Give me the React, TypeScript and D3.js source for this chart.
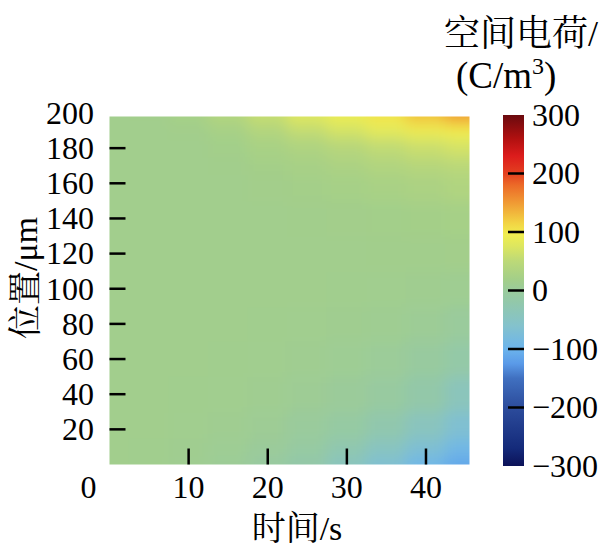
import React from "react";
import * as d3 from "d3";

const times = [0, 5, 10, 15, 20, 25, 30, 35, 40, 45];
const positions = [0, 10, 20, 40, 60, 80, 100, 120, 140, 160, 170, 180, 190, 194, 198];
const charge: number[][] = [
  [15, 14, 11, 5, -5, -18, -42, -66, -92, -112],
  [15, 14, 12, 8, 2, -8, -26, -45, -68, -90],
  [15, 15, 13, 11, 7, 0, -10, -24, -44, -66],
  [15, 15, 14, 13, 11, 7, 2, -6, -18, -40],
  [15, 15, 15, 14, 13, 11, 8, 3, -4, -16],
  [15, 15, 15, 15, 14, 13, 12, 10, 6, 0],
  [15, 15, 15, 15, 15, 15, 14, 13, 12, 10],
  [15, 15, 15, 15, 15, 15, 15, 16, 16, 17],
  [15, 15, 15, 15, 15, 16, 17, 18, 20, 22],
  [15, 15, 15, 15, 17, 19, 22, 26, 30, 35],
  [15, 15, 15, 16, 20, 24, 30, 36, 42, 48],
  [15, 15, 15, 18, 25, 33, 42, 52, 60, 68],
  [15, 15, 16, 22, 36, 52, 65, 78, 88, 94],
  [15, 15, 19, 30, 48, 66, 80, 93, 106, 118],
  [15, 16, 22, 38, 58, 78, 90, 104, 128, 150],
];

const xTicks = [10, 20, 30, 40];
const yTicks = [20, 40, 60, 80, 100, 120, 140, 160, 180];
const yTickLabels = [20, 40, 60, 80, 100, 120, 140, 160, 180, 200];
const cbTicks = [-300, -200, -100, 0, 100, 200, 300];

const cmapValues = [-300, -270, -200, -150, -125, -100, -60, -20, 0, 20, 50, 75, 95, 115, 150, 180, 200, 230, 260, 300];
const cmapColors = [
  "#0c1258", "#142a7a", "#2c4c9c", "#4070c0", "#5a9ae8", "#6cb4ec", "#84c2cc", "#92c8aa",
  "#9acb9c", "#a4cf88", "#bcd978", "#dce660", "#f0ee50", "#f2d444", "#f09a34", "#ec6a28",
  "#e44020", "#dc1c1c", "#b01010", "#6a0a0e",
];

const W = 603;
const H = 552;
const serif = "'Liberation Serif', 'Times New Roman', 'Noto Serif CJK SC', 'Noto Sans CJK SC', serif";
const fs = 32;

export default function App() {
  const tMax = 45.5;
  const pMax = 198;
  const x = d3.scaleLinear().domain([0, tMax]).range([109.5, 469.5]);
  const y = d3.scaleLinear().domain([0, 200]).range([464.5, 113]);
  const color = d3.scaleLinear<string>().domain(cmapValues).range(cmapColors).interpolate(d3.interpolateRgb).clamp(true);
  const cb = d3.scaleLinear().domain([-300, 300]).range([466, 115]);

  const edges = (arr: number[], max: number) =>
    arr.map((v, i) => {
      const lo = i === 0 ? 0 : (arr[i - 1] + v) / 2;
      const hi = i === arr.length - 1 ? max : (arr[i + 1] + v) / 2;
      return [lo, hi];
    });
  const tE = edges(times, tMax);
  const pE = edges(positions, pMax);
  const ext = 30;

  const cells: React.ReactNode[] = [];
  positions.forEach((p, j) => {
    times.forEach((t, i) => {
      let x0 = x(tE[i][0]);
      let x1 = x(tE[i][1]);
      let y0 = y(pE[j][1]);
      let y1 = y(pE[j][0]);
      if (i === 0) x0 -= ext;
      if (i === times.length - 1) x1 += ext;
      if (j === 0) y1 += ext;
      if (j === positions.length - 1) y0 -= ext;
      cells.push(
        <rect key={`${i}-${j}`} x={x0 - 0.5} y={y0 - 0.5} width={x1 - x0 + 1} height={y1 - y0 + 1} fill={color(charge[j][i])} />
      );
    });
  });

  const px0 = x(0), px1 = x(tMax), py0 = y(pMax), py1 = y(0);

  return (
    <svg width={W} height={H} style={{ position: "absolute", left: 0, top: 0, background: "#fff" }} fontFamily={serif}>
      <defs>
        <clipPath id="plotClip">
          <rect x={px0} y={py0} width={px1 - px0} height={py1 - py0} />
        </clipPath>
        <filter id="smooth" x={px0 - 50} y={py0 - 50} width={px1 - px0 + 100} height={py1 - py0 + 100} filterUnits="userSpaceOnUse">
          <feGaussianBlur stdDeviation={7} />
        </filter>
        <linearGradient id="cbGrad" x1="0" y1="1" x2="0" y2="0">
          {cmapValues.map((v, i) => (
            <stop key={i} offset={(v + 300) / 600} stopColor={cmapColors[i]} />
          ))}
        </linearGradient>
      </defs>

      <g clipPath="url(#plotClip)">
        <g filter="url(#smooth)">{cells}</g>
      </g>

      {/* y ticks */}
      {yTicks.map((v) => (
        <line key={v} x1={px0} x2={px0 + 16} y1={y(v)} y2={y(v)} stroke="#000" strokeWidth={2.5} />
      ))}
      {yTickLabels.map((v) => (
        <text key={v} x={94} y={y(v)} dy="0.34em" textAnchor="end" fontSize={fs}>
          {v}
        </text>
      ))}

      {/* x ticks */}
      {xTicks.map((v) => (
        <line key={v} x1={x(v)} x2={x(v)} y1={py1} y2={py1 - 16} stroke="#000" strokeWidth={2.5} />
      ))}
      {xTicks.map((v) => (
        <text key={v} x={x(v)} y={498} textAnchor="middle" fontSize={fs}>
          {v}
        </text>
      ))}
      <text x={x(0) - 21} y={498} textAnchor="middle" fontSize={fs}>0</text>

      {/* axis titles */}
      <text x={297} y={540} textAnchor="middle" fontSize={34}>时间/s</text>
      <text transform={`translate(37, 278) rotate(-90)`} textAnchor="middle" fontSize={34}>位置/μm</text>

      {/* colorbar */}
      <rect x={503} y={cb(300)} width={21} height={cb(-300) - cb(300)} fill="url(#cbGrad)" />
      {cbTicks.filter((v) => v !== 300 && v !== -300).map((v) => (
        <line key={v} x1={508} x2={524} y1={cb(v)} y2={cb(v)} stroke="#000" strokeWidth={2.5} />
      ))}
      {cbTicks.map((v) => (
        <text key={v} x={532} y={cb(v)} dy="0.34em" fontSize={fs}>
          {v < 0 ? `\u2212${Math.abs(v)}` : v}
        </text>
      ))}
      <text x={598} y={46} textAnchor="end" fontSize={36}>空间电荷/</text>
      <text x={456} y={88} fontSize={37}>
        (C/m<tspan dy={-14} fontSize={24}>3</tspan><tspan dy={14}>)</tspan>
      </text>
    </svg>
  );
}
